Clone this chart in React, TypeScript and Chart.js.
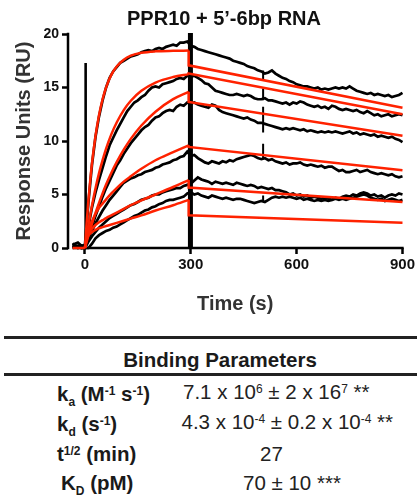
import React, { useEffect, useRef } from "react";
import { Chart, registerables } from "chart.js";

Chart.register(...registerables);

// ---------- text ----------
const TITLE = "PPR10 + 5\u2019-6bp RNA";
const X_TITLE = "Time (s)";
const Y_TITLE = "Response Units (RU)";
const X_TICKS = [0, 300, 600, 900];
const Y_TICKS = [0, 5, 10, 15, 20];
const X_AXIS_START = -35;

// ---------- sensorgram data (black) ----------
const TIMES = [
  -35, -20, -10, 0,
  10, 20, 30, 40, 50, 60, 70, 80, 90,
  100, 110, 120, 130, 140, 150, 160, 170, 180, 190,
  200, 210, 220, 230, 240, 250, 260, 270, 280, 290,
  300, 310, 320, 330, 340, 350, 360, 370, 380, 390,
  400, 410, 420, 430, 440, 450, 460, 470, 480, 490,
  500, 510, 520, 530, 540, 550, 560, 570, 580, 590,
  600, 610, 620, 630, 640, 650, 660, 670, 680, 690,
  700, 710, 720, 730, 740, 750, 760, 770, 780, 790,
  800, 810, 820, 830, 840, 850, 860, 870, 880, 890,
  900,
];

const SENS1 = [
  0.3, 0.5, 0.2, 0.3,
  4.3, 7.8, 10.4, 12.3, 13.8, 15.0, 15.9, 16.5, 16.9,
  17.3, 17.5, 17.7, 17.9, 18.0, 18.1, 18.3, 18.4, 18.5, 18.4,
  18.6, 18.7, 18.6, 18.8, 18.9, 19.0, 18.9, 19.2, 19.2, 19.3,
  18.9, 18.8, 18.6, 18.5, 18.4, 18.3, 18.2, 18.1, 18.0, 17.9,
  17.8, 17.7, 17.5, 17.4, 17.3, 17.2, 17.0, 16.9, 16.8, 16.6,
  16.5, 16.3, 16.4, 16.6, 16.3, 16.1, 15.9, 15.8, 15.6, 15.5,
  15.3, 15.2, 15.1, 15.1, 15.0, 14.9, 15.0, 14.8, 14.9, 14.8,
  14.9, 15.0, 14.9, 15.0, 14.9, 15.1, 14.9, 14.7, 14.6, 14.5,
  14.4, 14.5, 14.3, 14.4, 14.3, 14.2, 14.3, 14.1, 14.2, 14.3,
  14.5,
];

const SENS2 = [
  0.2, 0.1, 0.0, 0.1,
  2.0, 3.8, 5.2, 6.4, 7.5, 8.6, 9.6, 10.3, 11.0,
  11.6, 12.2, 12.8, 13.2, 13.6, 13.8, 14.1, 14.3, 14.7, 15.0,
  15.1, 15.0, 15.3, 15.4, 15.5, 15.6, 15.8, 15.9, 15.8, 16.1,
  16.0, 16.1, 15.9, 15.7, 15.4, 15.3, 15.0, 14.7, 14.6, 14.5,
  14.4, 14.3, 14.3, 14.4, 14.3, 14.2, 14.3, 14.2, 14.0, 13.9,
  13.9, 14.0, 13.8, 13.8, 13.7, 13.6, 13.5, 13.6, 13.4, 13.6,
  13.5, 13.7, 13.6, 13.4, 13.3, 13.2, 13.3, 13.1, 13.2, 13.0,
  13.3, 13.2, 13.0, 12.9, 13.0, 12.9, 12.8, 12.9, 12.7, 12.6,
  12.8, 12.6, 12.4, 12.5, 12.3, 12.4, 12.5, 12.3, 12.4, 12.5,
  12.4,
];

const SENS3 = [
  0.1, 0.2, 0.0, 0.0,
  1.0, 2.0, 3.0, 3.9, 4.8, 5.6, 6.3, 7.0, 7.7,
  8.2, 8.8, 9.3, 9.8, 10.2, 10.6, 11.0, 11.3, 11.5, 11.9,
  12.2, 12.3, 12.6, 12.8, 12.9, 12.8, 13.2, 13.4, 13.3, 13.6,
  13.5, 13.6, 13.4, 13.3, 13.2, 13.1, 13.4, 13.3, 12.9, 12.7,
  12.6, 12.5, 12.4, 12.3, 12.2, 12.1, 12.2, 12.0, 11.9, 11.7,
  11.7, 11.6, 11.5, 11.4, 11.3, 11.2, 11.1, 11.2, 11.1, 11.2,
  11.1, 11.0, 11.1, 10.9, 11.0, 10.9, 10.8, 10.9, 10.8, 10.9,
  10.8, 10.9, 10.8, 10.7, 10.8, 10.9, 10.7, 10.8, 10.6, 10.7,
  10.6, 10.5, 10.6, 10.4, 10.5, 10.4, 10.3, 10.4, 10.2, 10.1,
  9.9,
];

const SENS4 = [
  0.4, 0.1, 0.2, 0.1,
  0.9, 1.6, 2.3, 2.9, 3.5, 4.0, 4.5, 4.9, 5.3,
  5.7, 6.1, 6.3, 6.5, 6.6, 6.8, 6.9, 7.1, 7.2, 7.3,
  7.5, 7.6, 7.8, 7.9, 8.0, 8.2, 8.3, 8.5, 8.6, 9.0,
  8.6, 8.7, 8.4, 8.2, 8.0, 7.9, 8.1, 8.0, 7.9, 8.1,
  8.0, 8.2, 8.1, 8.3, 8.4, 8.5, 8.6, 8.7, 8.6, 8.4,
  8.3, 8.4, 8.2, 8.3, 8.1, 8.0, 7.9, 8.0, 7.8, 7.9,
  7.9, 8.0, 7.8, 7.7, 7.8, 7.7, 7.6, 7.7, 7.5, 7.6,
  7.6, 7.4, 7.2, 7.3, 7.1, 7.1, 7.2, 7.3, 7.1, 7.2,
  7.3, 7.1, 7.0, 6.9, 7.0, 6.9, 6.8, 6.9, 6.7, 6.6,
  6.7,
];

const SENS5 = [
  0.2, 0.0, 0.1, 0.0,
  0.6, 1.1, 1.5, 1.9, 2.2, 2.5, 2.8, 3.0, 3.2,
  3.4, 3.6, 3.8, 4.0, 4.1, 4.3, 4.5, 4.6, 4.7, 4.9,
  5.0, 5.0, 5.2, 5.3, 5.4, 5.5, 5.6, 5.6, 5.8, 5.9,
  6.0, 6.3, 6.6, 6.4, 6.3, 6.2, 6.0, 6.2, 6.1, 6.0,
  6.1, 6.0, 5.9, 6.1, 6.0, 5.9, 5.8, 5.9, 5.8, 5.6,
  5.7, 5.6, 5.5, 5.6, 5.4, 5.4, 5.3, 5.2, 5.0, 5.1,
  4.9, 5.0, 4.8, 4.9, 4.7, 4.8, 4.7, 4.6, 4.7, 4.6,
  4.5, 4.7, 4.6, 4.8, 4.9, 4.8, 5.0, 4.9, 5.1, 5.2,
  5.1, 4.9, 5.0, 4.8, 4.9, 4.7, 4.9, 5.0, 4.9, 5.1,
  5.0,
];

const SENS6 = [
  0.0, 0.1, 0.0, 0.0,
  0.0, 0.4, 0.9, 1.2, 1.4, 1.6, 1.7, 1.9, 2.0,
  2.2, 2.4, 2.6, 2.8, 3.0, 3.1, 3.3, 3.5, 3.6, 3.8,
  3.9, 4.1, 4.2, 4.4, 4.5, 4.5, 4.6, 4.7, 4.8, 5.1,
  5.2, 5.0, 5.1, 4.9, 4.8, 4.7, 4.9, 4.8, 4.7, 4.6,
  4.7, 4.6, 4.5, 4.6, 4.6, 4.5, 4.4, 4.3, 4.2, 4.3,
  4.4, 4.3, 4.5, 4.7, 4.8, 4.7, 4.8, 4.7, 4.8, 4.7,
  4.6, 4.7, 4.5, 4.6, 4.5, 4.4, 4.5, 4.4, 4.5, 4.4,
  4.5, 4.6, 4.5, 4.6, 4.5, 4.6, 4.7, 4.8, 4.9, 5.0,
  4.9, 4.7, 4.6, 4.5, 4.6, 4.4, 4.5, 4.6, 4.5, 4.4,
  4.5,
];

// injection artefacts (vertical black marks)
const SPIKE_TIMES = [2, 299];
const SPIKE_TOPS = [17.3, 20.1];

// short glitch at ~505 s seen on several traces
const GLITCH_TIME = 505;
const GLITCH_LOW = [15.7, 13.8, 10.8, 8.3, 4.3];
const GLITCH_HIGH = [16.6, 14.9, 13.2, 9.75, 4.9];

// ---------- fitted curves (red) ----------
const FIT_BASELINE_TIMES = [-35, 0];
const FIT_BASELINE = [0, 0];

const FIT_ASSOC_TIMES = [0, 5, 10, 15, 20, 30, 40, 50, 60, 75, 90, 110, 130, 160, 200, 250, 294];
const FIT1_ASSOC = [0, 2.41, 4.5, 6.33, 7.92, 10.48, 12.44, 13.9, 15.02, 16.2, 16.97, 17.6, 17.97, 18.24, 18.38, 18.43, 18.45];
const FIT2_ASSOC = [0, 1.1, 2.13, 3.09, 3.98, 5.59, 7.0, 8.21, 9.29, 10.64, 11.73, 12.89, 13.76, 14.69, 15.46, 15.98, 16.25];
const FIT3_ASSOC = [0, 0.6, 1.18, 1.73, 2.27, 3.29, 4.22, 5.1, 5.93, 7.03, 8.02, 9.19, 10.2, 11.45, 12.74, 13.91, 14.6];
const FIT4_ASSOC = [0, 1.0, 1.6, 2.1, 2.5, 3.2, 3.75, 4.15, 4.55, 5.1, 5.6, 6.2, 6.7, 7.4, 8.2, 8.95, 9.6];
const FIT5_ASSOC = [0, 0.9, 1.3, 1.6, 1.8, 2.15, 2.4, 2.6, 2.8, 3.05, 3.3, 3.65, 4.0, 4.45, 5.0, 5.7, 6.35];
const FIT6_ASSOC = [0, 0.8, 1.15, 1.35, 1.5, 1.7, 1.85, 1.95, 2.05, 2.2, 2.35, 2.55, 2.75, 3.05, 3.5, 4.0, 4.5];

const FIT_DISSOC_TIMES = [294, 294, 900];
const FIT1_DISSOC = [18.45, 17.07, 13.1];
const FIT2_DISSOC = [16.25, 16.3, 12.5];
const FIT3_DISSOC = [14.6, 13.65, 10.5];
const FIT4_DISSOC = [9.6, 9.45, 7.26];
const FIT5_DISSOC = [6.35, 5.65, 4.3];
const FIT6_DISSOC = [4.5, 3.05, 2.37];

// ---------- table ----------
const TABLE_HEADER = "Binding Parameters";
type Seg = [string, string];
const PARAM_LABELS: Seg[][] = [
  [["k", ""], ["a", "sub"], [" (M", ""], ["-1", "sup"], [" s", ""], ["-1", "sup"], [")", ""]],
  [["k", ""], ["d", "sub"], [" (s", ""], ["-1", "sup"], [")", ""]],
  [["t", ""], ["1/2", "sup"], [" (min)", ""]],
  [["K", ""], ["D", "sub"], [" (pM)", ""]],
];
const PARAM_VALUES: Seg[][] = [
  [["7.1 x 10", ""], ["6", "sup"], [" \u00b1 2 x 16", ""], ["7", "sup"], [" **", ""]],
  [["4.3 x 10", ""], ["-4", "sup"], [" \u00b1 0.2 x 10", ""], ["-4", "sup"], [" **", ""]],
  [["27", ""]],
  [["70 \u00b1 10 ***", ""]],
];

// layout (pixels)
const LABEL_BASELINES = [401.5, 431.5, 461.5, 490.5];
const VALUE_BASELINES = [399, 429.5, 461.5, 490];
const LABEL_LEFT = [57, 57, 57, 61];
const VALUE_LEFT = [183, 181.5, 260, 243];

const FONT = '"Liberation Sans", Arial, Helvetica, sans-serif';
const RED = "#ff2200";

const pts = (xs: number[], ys: number[]) => xs.map((x, i) => ({ x, y: ys[i] }));

const titlePlugin = {
  id: "topTitle",
  afterDraw(chart: any) {
    const ctx = chart.ctx;
    ctx.save();
    ctx.font = `bold 20px ${FONT}`;
    ctx.fillStyle = "#111";
    ctx.textAlign = "center";
    ctx.textBaseline = "alphabetic";
    ctx.fillText(TITLE, 224, 25);
    ctx.restore();
  },
};

const axesPlugin = {
  id: "prismAxes",
  beforeDatasetsDraw(chart: any) {
    const { ctx, chartArea, scales } = chart;
    const xs = scales.x;
    const ys = scales.y;
    const y0 = ys.getPixelForValue(Y_TICKS[0]);
    const yTop = ys.getPixelForValue(Y_TICKS[Y_TICKS.length - 1]);
    ctx.save();
    ctx.strokeStyle = "#000";
    ctx.lineWidth = 2.5;
    ctx.beginPath();
    ctx.moveTo(chartArea.left, yTop - 1.2);
    ctx.lineTo(chartArea.left, y0 + 1.2);
    ctx.moveTo(xs.getPixelForValue(X_AXIS_START), y0);
    ctx.lineTo(chartArea.right + 1.2, y0);
    ctx.stroke();
    ctx.restore();
  },
};

function renderSegs(segs: Seg[]) {
  return segs.map(([t, kind], i) => {
    if (kind === "sub")
      return (
        <span key={i} style={{ fontSize: 12, position: "relative", top: 5 }}>
          {t}
        </span>
      );
    if (kind === "sup")
      return (
        <span key={i} style={{ fontSize: 12, position: "relative", top: -6 }}>
          {t}
        </span>
      );
    return <span key={i}>{t}</span>;
  });
}

export default function App() {
  const ref = useRef<HTMLCanvasElement | null>(null);

  useEffect(() => {
    if (!ref.current) return;
    const black = (data: any[], width = 2.7) => ({
      data,
      borderColor: "#000",
      borderWidth: width,
      pointRadius: 0,
      tension: 0,
      order: 2,
      clip: 8,
    });
    const red = (data: any[], smooth: boolean) => ({
      data,
      borderColor: RED,
      borderWidth: 2.5,
      pointRadius: 0,
      tension: 0,
      cubicInterpolationMode: smooth ? "monotone" : "default",
      order: 1,
      clip: 8,
    });

    const sens = [SENS1, SENS2, SENS3, SENS4, SENS5, SENS6];
    const assoc = [FIT1_ASSOC, FIT2_ASSOC, FIT3_ASSOC, FIT4_ASSOC, FIT5_ASSOC, FIT6_ASSOC];
    const dissoc = [FIT1_DISSOC, FIT2_DISSOC, FIT3_DISSOC, FIT4_DISSOC, FIT5_DISSOC, FIT6_DISSOC];

    const datasets: any[] = [];
    sens.forEach((s) => datasets.push(black(pts(TIMES, s))));
    SPIKE_TIMES.forEach((t, i) =>
      datasets.push(black([{ x: t, y: 0 }, { x: t, y: SPIKE_TOPS[i] }], i === 0 ? 2.6 : 5))
    );
    GLITCH_LOW.forEach((lo, i) =>
      datasets.push(black([{ x: GLITCH_TIME, y: lo }, { x: GLITCH_TIME, y: GLITCH_HIGH[i] }], 2))
    );
    datasets.push(red(pts(FIT_BASELINE_TIMES, FIT_BASELINE), false));
    assoc.forEach((a) => datasets.push(red(pts(FIT_ASSOC_TIMES, a), true)));
    dissoc.forEach((d) => datasets.push(red(pts(FIT_DISSOC_TIMES, d), false)));

    const tickFont = (size: number) => ({ family: FONT, size, weight: "bold" as const });

    const chart = new Chart(ref.current, {
      type: "line",
      data: { datasets },
      options: {
        animation: false,
        responsive: false,
        devicePixelRatio: 1,
        layout: { padding: { left: 0, right: 13.5, top: 34, bottom: 0 } },
        plugins: { legend: { display: false }, tooltip: { enabled: false }, title: { display: false } },
        scales: {
          x: {
            type: "linear",
            min: -48,
            max: 900,
            afterBuildTicks: (s: any) => {
              s.ticks = X_TICKS.map((v) => ({ value: v }));
            },
            afterFit: (s: any) => {
              s.height = 74;
            },
            ticks: { font: tickFont(15), color: "#111", padding: 2, maxRotation: 0, autoSkip: false },
            grid: { drawOnChartArea: false, drawTicks: true, tickLength: 6, tickWidth: 2.5, tickColor: "#000" },
            border: { display: false },
            title: {
              display: true,
              text: X_TITLE,
              font: tickFont(20),
              color: "#333",
              padding: { top: 0, bottom: 6 },
            },
          },
          y: {
            type: "linear",
            min: 0,
            max: 20,
            afterBuildTicks: (s: any) => {
              s.ticks = Y_TICKS.map((v) => ({ value: v }));
            },
            afterFit: (s: any) => {
              s.width = 68;
            },
            ticks: { font: tickFont(14), color: "#111", padding: 3 },
            grid: { drawOnChartArea: false, drawTicks: true, tickLength: 6, tickWidth: 2.5, tickColor: "#000" },
            border: { display: false },
            title: {
              display: true,
              text: Y_TITLE,
              font: tickFont(20),
              color: "#333",
              padding: { top: 12, bottom: 0 },
            },
          },
        },
      } as any,
      plugins: [titlePlugin, axesPlugin],
    });
    return () => chart.destroy();
  }, []);

  const tableFont = 20.5;
  const baseOff = 17.1;

  return (
    <div
      style={{
        position: "absolute",
        left: 0,
        top: 0,
        width: 417,
        height: 500,
        background: "#fff",
        fontFamily: FONT,
        color: "#1a1a1a",
        overflow: "hidden",
      }}
    >
      <canvas
        ref={ref}
        width={417}
        height={322}
        style={{ position: "absolute", left: 0, top: 0, width: 417, height: 322 }}
      />
      <div style={{ position: "absolute", left: 4, top: 335.5, width: 413, height: 3, background: "#222" }} />
      <div
        style={{
          position: "absolute",
          left: 0,
          width: 440,
          top: 366.7 - baseOff,
          textAlign: "center",
          fontWeight: "bold",
          fontSize: tableFont,
          lineHeight: "20px",
          whiteSpace: "nowrap",
        }}
      >
        {TABLE_HEADER}
      </div>
      <div style={{ position: "absolute", left: 4, top: 372.5, width: 413, height: 3, background: "#222" }} />
      {PARAM_LABELS.map((segs, i) => (
        <div
          key={"l" + i}
          style={{
            position: "absolute",
            left: LABEL_LEFT[i],
            top: LABEL_BASELINES[i] - baseOff,
            fontWeight: "bold",
            fontSize: tableFont,
            lineHeight: "20px",
            whiteSpace: "nowrap",
          }}
        >
          {renderSegs(segs)}
        </div>
      ))}
      {PARAM_VALUES.map((segs, i) => (
        <div
          key={"v" + i}
          style={{
            position: "absolute",
            left: VALUE_LEFT[i],
            top: VALUE_BASELINES[i] - baseOff,
            fontWeight: "normal",
            fontSize: tableFont,
            lineHeight: "20px",
            whiteSpace: "nowrap",
            color: "#222",
          }}
        >
          {renderSegs(segs)}
        </div>
      ))}
    </div>
  );
}
